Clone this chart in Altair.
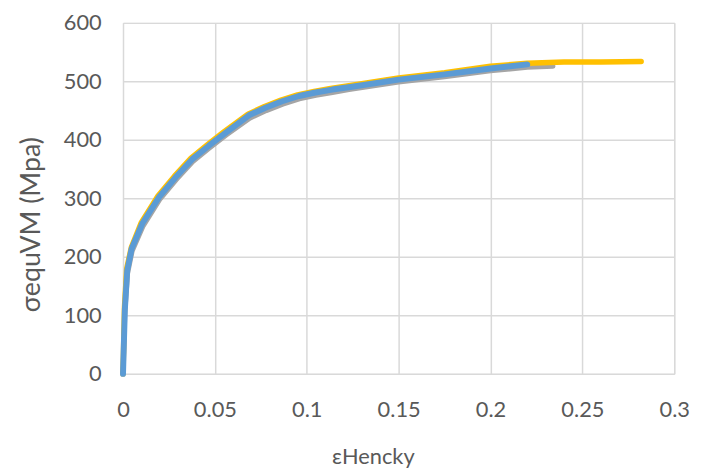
import altair as alt
import pandas as pd

# Series
gray_x = [0, 0.001, 0.0025, 0.005, 0.011, 0.02, 0.029, 0.038, 0.047, 0.056, 0.069, 0.078,
          0.087, 0.096, 0.105, 0.114, 0.123, 0.15, 0.175, 0.2, 0.22, 0.234]
gray_y = [0, 105, 172, 210, 253, 298, 332, 363, 386, 408, 437, 450,
          461, 470, 476, 481, 486, 499, 508, 518, 524, 526]

yellow_x = [0, 0.0008, 0.002, 0.0045, 0.01, 0.019, 0.028, 0.037, 0.046, 0.055, 0.068, 0.077,
            0.086, 0.095, 0.104, 0.113, 0.122, 0.15, 0.175, 0.2, 0.22, 0.24, 0.26, 0.282]
yellow_y = [0, 114, 180, 216, 259, 304, 338, 369, 392, 414, 444, 457,
            468, 477, 483, 488, 492, 506, 515, 526, 531, 533, 533, 534]

blue_x = [0, 0.001, 0.0023, 0.0047, 0.0105, 0.0196, 0.0286, 0.0377, 0.0467, 0.0558, 0.0685, 0.0775,
          0.0866, 0.0957, 0.1047, 0.1138, 0.1228, 0.15, 0.175, 0.2, 0.22]
blue_y = [0, 110, 177, 214, 257, 302, 336, 367, 390, 412, 442, 455,
          466, 475, 481, 486, 490, 503, 512, 522, 529]

x_ticks = [0, 0.05, 0.1, 0.15, 0.2, 0.25, 0.3]
y_ticks = [0, 100, 200, 300, 400, 500, 600]

FONT = "Lato"
TXT = "#595959"

x_enc = alt.X("x:Q",
              scale=alt.Scale(domain=[0, 0.3], nice=False, zero=True),
              axis=alt.Axis(values=x_ticks, labelExpr="format(datum.value, '~g')",
                            title="εHencky", titleX=252, titleY=90,
                            titleBaseline="alphabetic", titleAlign="center",
                            labelPadding=26, labelFontSize=22, titleFontSize=22,
                            labelFlush=False,
                            labelFont=FONT, titleFont=FONT, labelColor=TXT, titleColor=TXT,
                            titleFontWeight="normal",
                            domain=False, ticks=False, grid=True,
                            gridColor="#D9D9D9", gridWidth=1.5))
y_enc = alt.Y("y:Q",
              scale=alt.Scale(domain=[0, 600], nice=False),
              axis=alt.Axis(values=y_ticks, title="σequVM (Mpa)",
                            labelPadding=22, labelFontSize=22, titleFontSize=27,
                            titleX=-92, titleY=203, titleBaseline="middle",
                            titleAlign="center", titleAngle=270,
                            labelFont=FONT, titleFont=FONT, labelColor=TXT, titleColor=TXT,
                            titleFontWeight="normal",
                            domain=False, ticks=False, grid=True,
                            gridColor="#D9D9D9", gridWidth=1.5))


def series(xs, ys, color, width):
    df = pd.DataFrame({"x": xs, "y": ys})
    return alt.Chart(df).mark_line(color=color, strokeWidth=width,
                                   strokeCap="round", strokeJoin="round").encode(x=x_enc, y=y_enc)


chart = alt.layer(
    series(gray_x, gray_y, "#A5A5A5", 5),
    series(yellow_x, yellow_y, "#FFC000", 5.5),
    series(blue_x, blue_y, "#5B9BD5", 6),
).properties(
    width=556, height=354,
    autosize=alt.AutoSizeParams(type="none"),
    padding={"left": 116, "top": 13, "right": 30, "bottom": 98},
).configure_view(stroke=None).configure(background="white")

chart.save("out.html", embed_options={"renderer": "svg", "actions": False})
